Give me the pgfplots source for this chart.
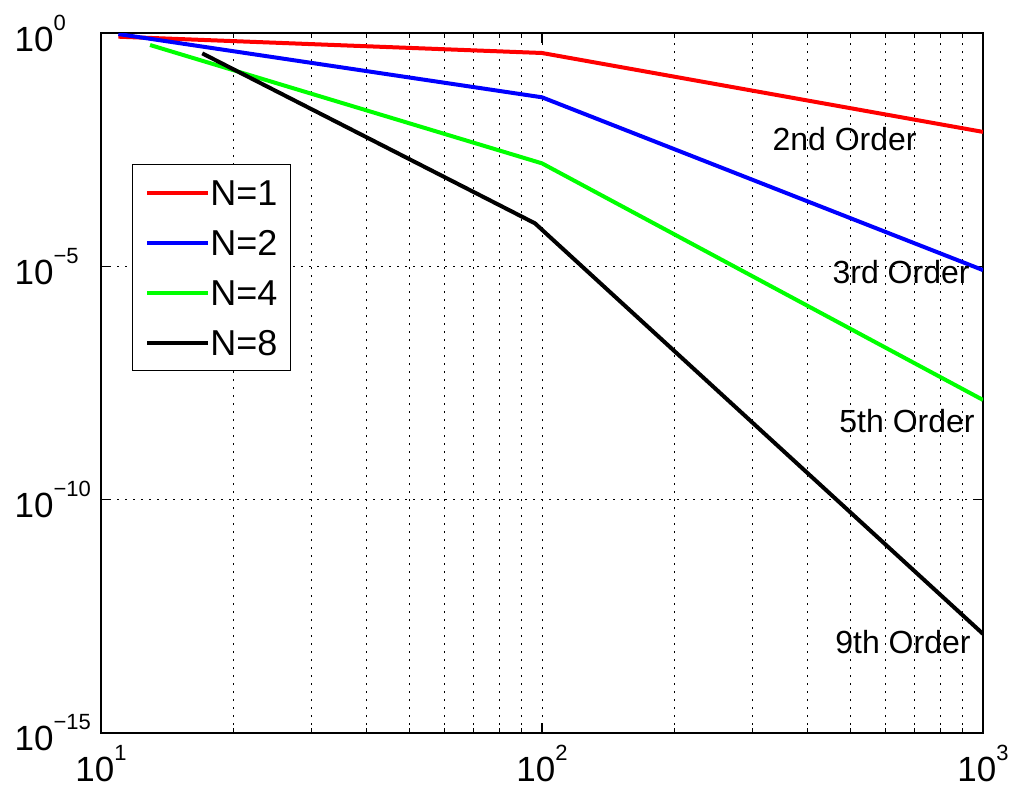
\documentclass[border=0pt]{standalone}
\usepackage{fontspec}
\setmainfont{Liberation Sans}
\usepackage{pgfplots}
\pgfplotsset{compat=1.18}
\newcommand{\pw}[1]{10\raisebox{10.5pt}{\fontsize{11}{11}\selectfont #1}}
\begin{document}
\begin{tikzpicture}
\begin{axis}[
  name=ax,
  scale only axis, width=441pt, height=350pt,
  xmode=log, ymode=log,
  xmin=10, xmax=1000, ymin=1e-15, ymax=1,
  xtick={10,100,1000},
  xticklabels={\pw{1},\pw{2},\pw{3}},
  minor xtick={20,30,40,50,60,70,80,90,200,300,400,500,600,700,800,900},
  ytick={1e-15,1e-10,1e-5,1},
  yticklabels={\pw{−15},\pw{−10},\pw{−5},\pw{0}},
  yminorticks=false,
  xmajorgrids=true, xminorgrids=true, ymajorgrids=true,
  major grid style={dash pattern=on 1pt off 3pt, line width=0.5pt, black},
  minor grid style={dash pattern=on 1pt off 3pt, line width=0.5pt, black},
  tick align=inside,
  major tick length=5pt, minor tick length=2.5pt,
  tick style={line width=0.6pt, black},
  axis line style={line width=0.8pt},
  ticklabel style={font=\fontsize{17.5}{17.5}\selectfont},
  xticklabel style={anchor=north, inner sep=0pt, yshift=-6pt},
  yticklabel style={anchor=east, text width=41pt, align=left, inner sep=0pt, xshift=-2pt},
  legend style={at={(0.035,0.813)}, anchor=north west, draw=black, line width=0.6pt,
    inner xsep=6.5pt, inner ysep=7.5pt, font=\fontsize{18}{18}\selectfont,
    row sep=12pt, column sep=0pt,
    nodes={inner sep=0pt, text height=13pt, text depth=0pt}},
  legend cell align=left,
  legend image code/.code={\draw[#1] (0pt,0pt) -- (30.5pt,0pt);},
  clip=true,
]
\addplot[red, line width=2pt] coordinates {(10.95,0.834) (100,0.373) (1000,7.6e-3)};
\addlegendentry{N=1}
\addplot[blue, line width=2pt] coordinates {(10.95,0.95) (100,0.0419) (1000,8.3e-6)};
\addlegendentry{N=2}
\addplot[green, line width=2pt] coordinates {(12.92,0.553) (100,1.61e-3) (1000,1.37e-8)};
\addlegendentry{N=4}
\addplot[black, line width=2pt] coordinates {(16.97,0.366) (96.4,8.35e-5) (1000,1.33e-13)};
\addlegendentry{N=8}
\node[anchor=east, inner sep=0pt, font=\fontsize{16}{16}\selectfont] at (axis cs:708.6,5.35e-3) {2nd Order};
\node[anchor=east, inner sep=0pt, font=\fontsize{16}{16}\selectfont] at (axis cs:934,7.56e-6) {3rd Order};
\node[anchor=east, inner sep=0pt, font=\fontsize{16}{16}\selectfont] at (axis cs:959,4.85e-9) {5th Order};
\node[anchor=east, inner sep=0pt, font=\fontsize{16}{16}\selectfont] at (axis cs:939,8.9e-14) {9th Order};
\end{axis}
\path (ax.south west) ++(-50.5pt,-27.5pt);
\path (ax.north east) ++(15pt,16.5pt);
\end{tikzpicture}
\end{document}
